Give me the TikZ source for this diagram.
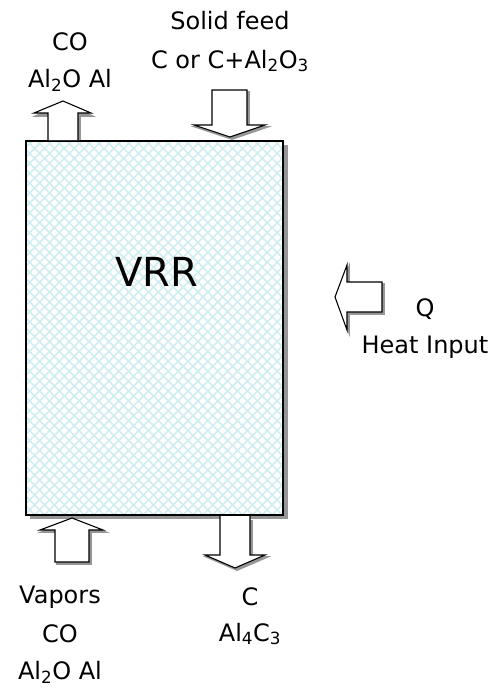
\documentclass[tikz,border=0pt]{standalone}
\usepackage{fontspec}
\setmainfont{DejaVu Sans}
\usetikzlibrary{patterns.meta,positioning}
\definecolor{reactorhatch}{RGB}{208,238,241}
\definecolor{shadowgray}{RGB}{150,150,150}

\begin{document}
\begin{tikzpicture}[x=1pt,y=-1pt,
  every node/.style={font=\fontsize{24}{26}\selectfont, inner sep=1pt},
  reactor/.style={draw, line width=1.4pt},
  hatchA/.style={pattern={Lines[angle=45,distance=7pt,line width=1.6pt]}, pattern color=reactorhatch},
  hatchB/.style={pattern={Lines[angle=-45,distance=7pt,line width=1.6pt]}, pattern color=reactorhatch},
  blockarr/.style={draw, line width=1.1pt, fill=white, line join=miter},
  arrshadow/.style={draw=shadowgray, line width=1.8pt, fill=shadowgray}]
\useasboundingbox (0,0) rectangle (498,688);
% reactor vessel
\fill[shadowgray] (30,145) rectangle (288,519);
\fill[white] (26,141) rectangle (283,515);
\fill[hatchA] (26,141) rectangle (283,515);
\fill[hatchB] (26,141) rectangle (283,515);
\draw[reactor] (26,141) rectangle (283,515);
\node (vrr) at (157,272) {\fontsize{40}{42}\selectfont VRR};
% top outlet, up
\draw[arrshadow] (50,140) -- (50,116) -- (36,116) -- (64,103) -- (92,116) -- (80,116) -- (80,140);
\draw[blockarr] (48,140) -- (48,113) -- (34,113) -- (63,101) -- (91,113) -- (78,113) -- (78,140);
\node (topout) at (70,42) {CO};
\node (topout2) at (70,80) {Al\textsubscript{2}O Al};
% solid feed, down
\draw[arrshadow] (214,92) -- (249,92) -- (249,127) -- (267,127) -- (232,139) -- (196,127) -- (214,127) -- cycle;
\draw[blockarr] (212,90) -- (247,90) -- (247,125) -- (265,125) -- (230,137) -- (194,125) -- (212,125) -- cycle;
\node (feed) at (230,21) {Solid feed};
\node (feed2) at (230,61) {C or C+Al\textsubscript{2}O\textsubscript{3}};
% heat input, left
\draw[arrshadow] (349,284) -- (384,284) -- (384,314) -- (349,314) -- (349,332) -- (337,299) -- (349,267) -- cycle;
\draw[blockarr] (347,282) -- (382,282) -- (382,312) -- (347,312) -- (347,330) -- (335,297) -- (347,265) -- cycle;
\node (heat) at (425,309) {Q};
\node (heat2) at (425,347) {Heat Input};
% vapors inlet, up
\draw[arrshadow] (57,564) -- (57,532) -- (42,532) -- (74,520) -- (105,532) -- (91,532) -- (91,564) -- cycle;
\draw[blockarr] (55,562) -- (55,530) -- (40,530) -- (72,518) -- (103,530) -- (89,530) -- (89,562) -- cycle;
\node (vap) at (60,597) {Vapors};
\node (vap2) at (60,634) {CO};
\node (vap3) at (60,672) {Al\textsubscript{2}O Al};
% carbide outlet, down
\draw[arrshadow] (222,520) -- (222,557) -- (207,557) -- (237,570) -- (267,557) -- (252,557) -- (252,520);
\draw[blockarr] (220,516) -- (220,555) -- (205,555) -- (235,568) -- (265,555) -- (250,555) -- (250,516);
\node (carb) at (250,597) {C};
\node (carb2) at (250,634) {Al\textsubscript{4}C\textsubscript{3}};
\end{tikzpicture}
\end{document}
